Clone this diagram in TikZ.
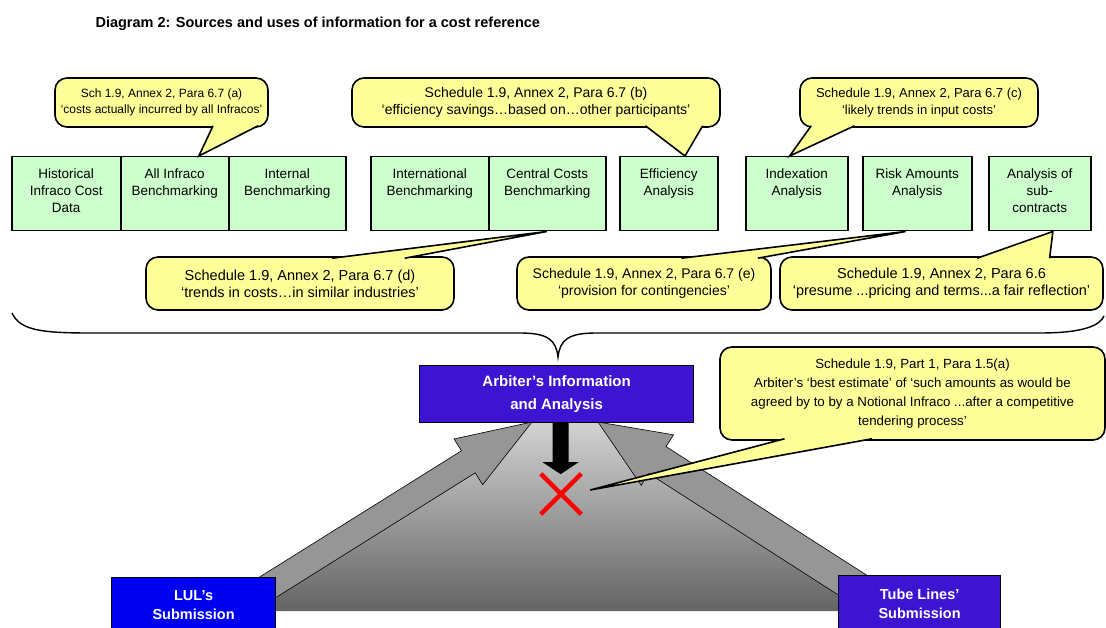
\documentclass[tikz,border=0pt]{standalone}
\usepackage{fontspec}
\setmainfont{Liberation Sans}
\usetikzlibrary{calc,shapes.misc}

\definecolor{boxgreen}{RGB}{204,255,204}
\definecolor{noteyellow}{RGB}{255,255,153}
\definecolor{arbviolet}{RGB}{60,20,210}
\definecolor{lulblue}{RGB}{0,0,240}
\definecolor{arrowgray}{RGB}{150,150,150}
\definecolor{rampTop}{RGB}{210,210,210}
\definecolor{rampBot}{RGB}{100,100,100}

\tikzset{
  src/.style={draw, line width=1.5pt, fill=boxgreen, inner sep=0pt,
    minimum height=74pt, anchor=north west, font=\fontsize{13.5}{17}\selectfont},
  note/.style={draw, line width=1.6pt, fill=noteyellow, rounded corners=12pt,
    align=center, inner sep=0pt, font=\fontsize{14}{17}\selectfont},
  sub/.style={draw, line width=1.2pt, text=white, align=center, inner sep=0pt,
    font=\bfseries\fontsize{14.5}{19}\selectfont},
  garrow/.style={draw, line width=0.6pt, fill=arrowgray, line join=miter},
}
\newcommand{\srctxt}[1]{\parbox[t][50pt][t]{96pt}{\centering #1}}
\newcommand{\notetail}[3]{%
  \fill[noteyellow] (#1) -- (#3) -- (#2) -- cycle;
  \draw[line width=1.6pt] (#1) -- (#3) -- (#2);}

\begin{document}
\begin{tikzpicture}[x=1pt, y=-1pt]
    \useasboundingbox (0,0) rectangle (1106,628);

    \node[anchor=west, font=\bfseries\fontsize{14.5}{17}\selectfont] (title) at (92,24)
      {Diagram 2: Sources and uses of information for a cost reference};

    %% sources of information
    \foreach \nm/\xl/\w/\txt in {
      hist/11/109/{Historical\\Infraco Cost\\Data},
      allinf/120/108/{All Infraco\\Benchmarking},
      intern/228/117/{Internal\\Benchmarking},
      intl/370/118/{International\\Benchmarking},
      central/488/117/{Central Costs\\Benchmarking},
      eff/619/98/{Efficiency\\Analysis},
      idx/745/102/{Indexation\\Analysis},
      risk/862/109/{Risk Amounts\\Analysis},
      subc/988/102/{Analysis of\\sub-\\contracts}}{
      \node[src, minimum width=\w pt] (\nm) at (\xl,156) {\srctxt{\txt}};}

    %% references above the boxes
    \node[note, minimum width=213pt, minimum height=49pt, font=\fontsize{12}{16}\selectfont]
      (na) at (161.5,102.5)
      {Sch 1.9, Annex 2, Para 6.7 (a)\\‘costs actually incurred by all Infracos’};
    \notetail{$(na.south west)!0.74!(na.south east)+(0,-2)$}
             {$(na.south west)!0.95!(na.south east)+(0,-2)$}
             {$(allinf.north west)!0.72!(allinf.north east)$}
    \node[note, minimum width=368pt, minimum height=49pt] (nb) at (536,102.5)
      {Schedule 1.9, Annex 2, Para 6.7 (b)\\‘efficiency savings…based on…other participants’};
    \notetail{$(nb.south west)!0.796!(nb.south east)+(0,-2)$}
             {$(nb.south west)!0.951!(nb.south east)+(0,-2)$}
             {$(eff.north west)!0.663!(eff.north east)$}
    \node[note, minimum width=238pt, minimum height=49pt, font=\fontsize{13}{17}\selectfont]
      (nc) at (919,102.5)
      {Schedule 1.9, Annex 2, Para 6.7 (c)\\‘likely trends in input costs’};
    \notetail{$(nc.south west)!0.05!(nc.south east)+(0,-2)$}
             {$(nc.south west)!0.231!(nc.south east)+(0,-2)$}
             {$(idx.north west)!0.431!(idx.north east)$}

    %% references below the boxes
    \node[note, minimum width=308pt, minimum height=53pt, font=\fontsize{14.5}{17}\selectfont]
      (nd) at (300,283.5)
      {Schedule 1.9, Annex 2, Para 6.7 (d)\\‘trends in costs…in similar industries’};
    \notetail{$(nd.north west)!0.604!(nd.north east)+(0,2)$}
             {$(nd.north west)!0.838!(nd.north east)+(0,2)$}
             {$(central.south west)!0.496!(central.south east)$}
    \node[note, minimum width=254pt, minimum height=53pt] (ne) at (644,283.5)
      {Schedule 1.9, Annex 2, Para 6.7 (e)\\‘provision for contingencies’};
    \notetail{$(ne.north west)!0.646!(ne.north east)+(0,2)$}
             {$(ne.north west)!0.945!(ne.north east)+(0,2)$}
             {$(risk.south west)!0.394!(risk.south east)$}
    \node[note, minimum width=323pt, minimum height=53pt, font=\fontsize{14.5}{17}\selectfont]
      (nf) at (941.5,283.5)
      {Schedule 1.9, Annex 2, Para 6.6\\‘presume ...pricing and terms...a fair reflection’};
    \notetail{$(nf.north west)!0.61!(nf.north east)+(0,2)$}
             {$(nf.north west)!0.833!(nf.north east)+(0,2)$}
             {$(subc.south west)!0.627!(subc.south east)$}

    %% brace
    \draw[line width=1.4pt] (12,313) .. controls (20,330) and (40,333) .. (90,333)
      -- (520,333) .. controls (548,333) and (556,340) .. (558,357)
      .. controls (560,340) and (568,333) .. (596,333)
      -- (1040,333) .. controls (1085,333) and (1100,325) .. (1104,316);

    %% submissions
    \coordinate (lulT) at (249,599);
    \coordinate (arbL) at (532,422);
    \coordinate (tubT) at (868,595);
    \coordinate (arbR) at (598,422);
    \coordinate (lulN) at ($(lulT)!0.775!(arbL)$);
    \coordinate (tubN) at ($(tubT)!0.78!(arbR)$);

    \shade[top color=rampTop, bottom color=rampBot]
      (275,611) -- (275,596) -- (arbL) -- (arbR) -- (838,590) -- (838,611) -- cycle;

    \draw[garrow] ($(lulT)!13pt!90:(arbL)$) -- ($(lulN)!13pt!90:(arbL)$)
      -- ($(lulN)!27pt!90:(arbL)$) -- (arbL) -- ($(lulN)!27pt!-90:(arbL)$)
      -- ($(lulN)!13pt!-90:(arbL)$) -- ($(lulT)!13pt!-90:(arbL)$) -- cycle;
    \draw[garrow] ($(tubT)!16pt!90:(arbR)$) -- ($(tubN)!16pt!90:(arbR)$)
      -- ($(tubN)!30pt!90:(arbR)$) -- (arbR) -- ($(tubN)!30pt!-90:(arbR)$)
      -- ($(tubN)!16pt!-90:(arbR)$) -- ($(tubT)!16pt!-90:(arbR)$) -- cycle;

    \node[sub, fill=lulblue, minimum width=164pt, minimum height=55pt, anchor=north west]
      (lul) at (111,577) {LUL’s\\Submission};
    \node[sub, fill=arbviolet, minimum width=162pt, minimum height=56pt, anchor=north west]
      (tube) at (838,575) {Tube Lines’\\Submission};
    \node[sub, fill=arbviolet, minimum width=274pt, minimum height=57pt, anchor=north west,
      font=\bfseries\fontsize{15}{23}\selectfont]
      (arb) at (419,365) {Arbiter’s Information\\and Analysis};

    %% outcome
    \node[cross out, draw=red, line width=4.5pt, minimum size=36pt, inner sep=0pt] (xm) at (561,494) {};
    \coordinate (dn) at ($(arb.south)+(4,0)$);
    \fill ($(dn)+(-8,0)$) -- ($(dn)+(-8,39)$) -- ($(dn)+(-18,39)$) -- ($(dn)+(0,51)$)
      -- ($(dn)+(18,39)$) -- ($(dn)+(8,39)$) -- ($(dn)+(8,0)$) -- cycle;

    \node[note, minimum width=385pt, minimum height=93pt, font=\fontsize{13.3}{19}\selectfont]
      (ng) at (912.5,393.5) {Schedule 1.9, Part 1, Para 1.5(a)\\
      Arbiter’s ‘best estimate’ of ‘such amounts as would be\\
      agreed by to by a Notional Infraco ...after a competitive\\
      tendering process’};
    \notetail{$(ng.south west)!0.169!(ng.south east)+(0,-2)$}
             {$(ng.south west)!0.395!(ng.south east)+(0,-2)$}
             {$(xm.east)+(9,-4)$}
  \end{tikzpicture}
\end{document}
